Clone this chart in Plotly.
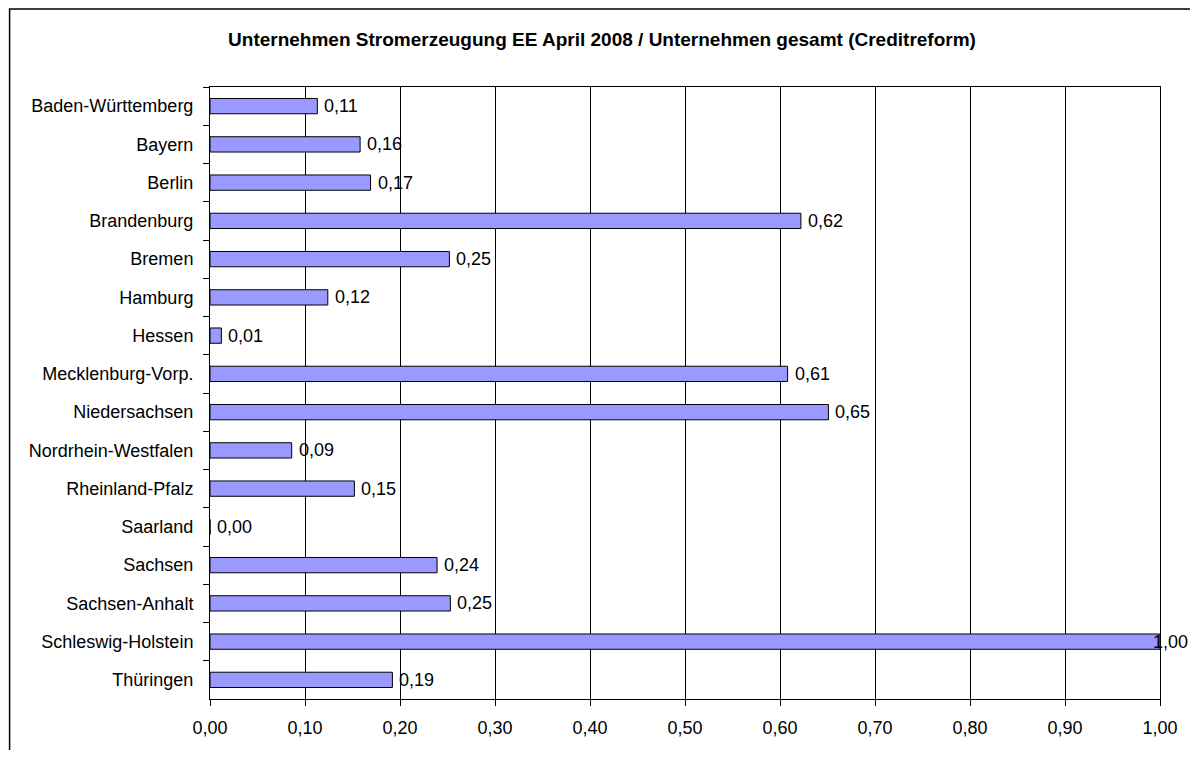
import plotly.graph_objects as go

# Bundesländer und Werte (Anteil, normiert)
laender = [
    "Baden-Württemberg", "Bayern", "Berlin", "Brandenburg", "Bremen",
    "Hamburg", "Hessen", "Mecklenburg-Vorp.", "Niedersachsen",
    "Nordrhein-Westfalen", "Rheinland-Pfalz", "Saarland", "Sachsen",
    "Sachsen-Anhalt", "Schleswig-Holstein", "Thüringen",
]
werte = [0.113, 0.158, 0.169, 0.622, 0.252, 0.124, 0.012, 0.608, 0.651,
         0.086, 0.152, 0.0, 0.239, 0.253, 1.0, 0.192]
x_ticks = [0.0, 0.1, 0.2, 0.3, 0.4, 0.5, 0.6, 0.7, 0.8, 0.9, 1.0]

font = "Liberation Sans, Arial, sans-serif"

# the page has an 8px body margin, so the figure is drawn smaller to avoid scrollbars
W, H = 1182, 742
L, R, T, B = 202, 1156, 79, 693

fig = go.Figure()
fig.add_trace(go.Bar(
    x=werte, y=laender, orientation="h", width=0.4,
    marker=dict(color="#9999FF", line=dict(color="black", width=1)),
    hoverinfo="x+y",
))

# Datenbeschriftungen rechts neben den Balken
for land, v in zip(laender, werte):
    fig.add_annotation(
        x=v, y=land, xref="x", yref="y",
        text=f"{v:.2f}".replace(".", ","),
        showarrow=False, xanchor="left", yanchor="middle",
        xshift=-9 if v >= 0.97 else 5,
        font=dict(family=font, size=18, color="black"),
    )

fig.update_layout(
    width=W, height=H,
    margin=dict(l=L, r=W - R, t=T, b=H - B),
    paper_bgcolor="white", plot_bgcolor="white",
    separators=",.",
    showlegend=False,
    font=dict(family=font, size=18, color="black"),
    title=dict(
        text="<b>Unternehmen Stromerzeugung EE April 2008 / Unternehmen gesamt (Creditreform)</b>",
        x=(602 - 8) / W, xref="container", xanchor="center",
        y=1 - 31 / H, yref="container", yanchor="middle",
        font=dict(family=font, size=19, color="black"),
    ),
)

fig.update_xaxes(
    range=[0, 1], tickvals=x_ticks, tickformat=".2f",
    showgrid=True, gridcolor="black", gridwidth=1,
    showline=True, linecolor="black", linewidth=1, mirror=True,
    ticks="outside", ticklen=6, tickcolor="black",
    ticklabelstandoff=6,
    zeroline=False, fixedrange=True,
    tickfont=dict(family=font, size=18, color="black"),
)
fig.update_yaxes(
    autorange="reversed", type="category",
    showgrid=False,
    showline=True, linecolor="black", linewidth=1, mirror=True,
    ticks="outside", ticklen=6, tickcolor="black", tickson="boundaries",
    ticklabelstandoff=12,
    tickfont=dict(family=font, size=18, color="black"),
)

# Rahmen um das gesamte Diagramm
fig.add_shape(
    type="rect", xref="paper", yref="paper",
    x0=(0.75 - L) / (R - L), x1=(W + 20 - L) / (R - L),
    y0=(B - H - 20) / (B - T), y1=(B - 0.75) / (B - T),
    line=dict(color="black", width=1.5), fillcolor="rgba(0,0,0,0)",
    layer="below",
)

fig.write_html("out.html")
